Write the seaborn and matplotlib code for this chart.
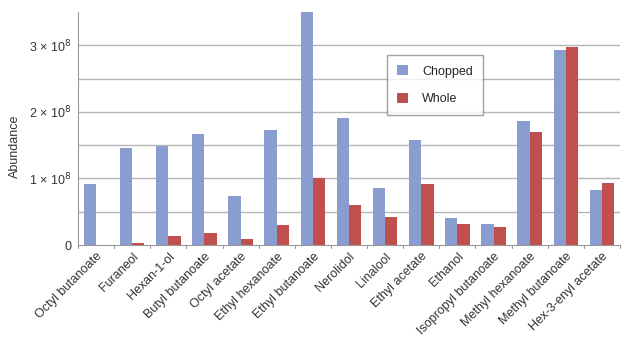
import matplotlib
matplotlib.use("Agg")
import matplotlib.pyplot as plt
import seaborn as sns
import pandas as pd
import numpy as np
from matplotlib.ticker import FixedLocator

compounds = ["Octyl butanoate", "Furaneol", "Hexan-1-ol", "Butyl butanoate", "Octyl acetate",
             "Ethyl hexanoate", "Ethyl butanoate", "Nerolidol", "Linalool", "Ethyl acetate",
             "Ethanol", "Isopropyl butanoate", "Methyl hexanoate", "Methyl butanoate",
             "Hex-3-enyl acetate"]
chopped = [0.92e8, 1.46e8, 1.49e8, 1.67e8, 0.735e8, 1.72e8, 3.6e8, 1.91e8, 0.86e8, 1.57e8,
           0.41e8, 0.32e8, 1.86e8, 2.93e8, 0.825e8]
whole = [0.0, 0.03e8, 0.135e8, 0.185e8, 0.085e8, 0.295e8, 1.0e8, 0.6e8, 0.425e8, 0.92e8,
         0.31e8, 0.27e8, 1.695e8, 2.98e8, 0.935e8]
series = ["Chopped", "Whole"]
ytick_vals = [0, 1e8, 2e8, 3e8]
ytick_labels = ["0", "1 × 10$^8$", "2 × 10$^8$", "3 × 10$^8$"]

df = pd.DataFrame({
    "Compound": compounds * 2,
    "Abundance": chopped + whole,
    "Sample": [series[0]] * len(compounds) + [series[1]] * len(compounds),
})

sns.set_style("white")
plt.rcParams["font.family"] = ["Liberation Sans", "DejaVu Sans"]

W, H = 640, 343
fig = plt.figure(figsize=(6.4, 3.43), dpi=100)
ax = fig.add_axes([78/W, 1 - 245/H, (620-78)/W, (245-12)/H])

colors = {"Chopped": "#8A9DD1", "Whole": "#C0504D"}
sns.barplot(data=df, x="Compound", y="Abundance", hue="Sample", palette=colors,
            width=0.68, gap=0, saturation=1, linewidth=0, ax=ax, legend=True)

ax.set_ylim(0, 3.5e8)
ax.set_xlim(-0.5, len(compounds) - 0.5)
ax.yaxis.set_major_locator(FixedLocator(ytick_vals))
ax.set_yticklabels(ytick_labels, fontsize=9, color="#333333")
for y in np.arange(0.5e8, 3.5e8, 0.5e8):
    ax.axhline(y, color="#b5b5b5", lw=1, zorder=0)
ax.tick_params(axis="y", length=0, pad=5)
ax.set_ylabel("")
fig.text(15/W, 1 - 146/H, "Abundance", rotation=90, ha="center", va="center",
         fontsize=9, color="#333333")
ax.set_xlabel("")

ax.set_xticks(np.arange(len(compounds)))
ax.set_xticklabels(compounds, rotation=45, ha="right", rotation_mode="anchor",
                   fontsize=9, color="#333333")
ax.tick_params(axis="x", length=0, pad=4)
for b in np.arange(-0.5, len(compounds), 1.0):
    ax.plot([b, b], [0, -0.05e8], color="#999999", lw=0.8, clip_on=False)

for s in ["top", "right"]:
    ax.spines[s].set_visible(False)
ax.spines["left"].set_color("#999999")
ax.spines["bottom"].set_color("#999999")

handles, labels = ax.get_legend_handles_labels()
leg = ax.legend(handles, labels, loc="upper left",
                bbox_to_anchor=((387-78)/542, (245-55)/233),
                frameon=True, fontsize=9, handlelength=0.9, handleheight=0.9,
                labelspacing=1.2, borderpad=0.8, handletextpad=1.1, borderaxespad=0,
                fancybox=False)
leg.get_frame().set_edgecolor("#888888")
leg.get_frame().set_linewidth(1)

fig.savefig("out.png", dpi=100)
